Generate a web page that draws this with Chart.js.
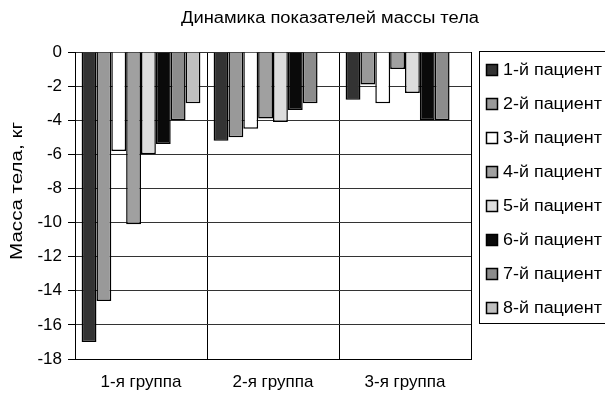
<!DOCTYPE html>
<html>
<head>
<meta charset="utf-8">
<script src="https://cdn.jsdelivr.net/npm/chart.js@4/dist/chart.umd.min.js"></script>
<style>
html,body{margin:0;padding:0;background:#fff;}
#wrap{width:605px;height:394px;position:relative;}
</style>
</head>
<body>
<div id="wrap"><canvas id="c" width="605" height="394"></canvas></div>
<script>
const chartTitle = "Динамика показателей массы тела";
const yTitle = "Масса тела, кг";
const categories = ["1-я группа", "2-я группа", "3-я группа"];
const seriesNames = ["1-й пациент","2-й пациент","3-й пациент","4-й пациент","5-й пациент","6-й пациент","7-й пациент","8-й пациент"];
const patient1 = [-17.0, -5.2, -2.8];
const patient2 = [-14.6, -5.0, -1.9];
const patient3 = [-5.8, -4.5, -3.0];
const patient4 = [-10.1, -3.9, -1.0];
const patient5 = [-6.0, -4.1, -2.4];
const patient6 = [-5.4, -3.4, -4.0];
const patient7 = [-4.0, -3.0, -4.0];
const patient8 = [-3.0, null, null];
const yTicks = [0,-2,-4,-6,-8,-10,-12,-14,-16,-18];
const seriesValues = [patient1,patient2,patient3,patient4,patient5,patient6,patient7,patient8];
const seriesColors = ["#333333","#999999","#ffffff","#a0a0a0","#dddddd","#0a0a0a","#8c8c8c","#c0c0c0"];

const FONT = "Arial, 'Liberation Sans', sans-serif";

function stretchedText(ctx, text, cx, cy, targetW, align) {
  const w = ctx.measureText(text).width;
  const k = targetW / w;
  ctx.save();
  ctx.translate(cx, cy);
  ctx.scale(k, 1);
  ctx.textAlign = align;
  ctx.fillText(text, 0, 0);
  ctx.restore();
}

const extras = {
  id: 'extras',
  afterDraw(chart) {
    const ctx = chart.ctx;
    ctx.save();
    ctx.fillStyle = '#000';
    ctx.font = '16px ' + FONT;
    ctx.textBaseline = 'middle';
    stretchedText(ctx, chartTitle, 330, 19, 298, 'center');
    // y title
    ctx.save();
    ctx.translate(18, 191);
    ctx.rotate(-Math.PI/2);
    stretchedText(ctx, yTitle, 0, 0, 138, 'center');
    ctx.restore();
    // legend frame
    ctx.lineWidth = 1;
    ctx.strokeStyle = '#000';
    ctx.strokeRect(479.5, 51.5, 140, 272);
    chart.data.datasets.forEach((ds, i) => {
      const cy = 70 + i * 34;
      ctx.fillStyle = ds.backgroundColor;
      ctx.fillRect(486.5, cy - 5.5, 11, 11);
      ctx.lineWidth = 1.5;
      ctx.strokeRect(486.5, cy - 5.5, 11, 11);
      ctx.fillStyle = '#000';
      const w = ctx.measureText(ds.label).width;
      stretchedText(ctx, ds.label, 503, cy + 1, w * 1.12, 'left');
    });
    ctx.restore();
  }
};

new Chart(document.getElementById('c'), {
  type: 'bar',
  data: {
    labels: categories,
    datasets: seriesNames.map((n, i) => ({
      label: n,
      data: seriesValues[i],
      backgroundColor: seriesColors[i],
      borderColor: '#000',
      borderWidth: 1.5,
      categoryPercentage: 0.9,
      barPercentage: 1.0
    }))
  },
  options: {
    responsive: false,
    animation: false,
    layout: { padding: { left: 0, right: 134, top: 52, bottom: 0 } },
    plugins: { legend: { display: false }, title: { display: false }, tooltip: { enabled: false } },
    scales: {
      x: {
        grid: { color: '#000', lineWidth: 1, drawTicks: false, offset: true },
        border: { color: '#000', width: 1 },
        ticks: { color: '#000', font: { family: FONT, size: 17 }, padding: 13, maxRotation: 0 },
        afterFit(s) { s.height = 35; }
      },
      y: {
        min: -18, max: 0,
        afterBuildTicks(s) { s.ticks = yTicks.map(v => ({ value: v })); },
        grid: { color: '#333', lineWidth: 1, tickLength: 7, tickColor: '#000' },
        border: { color: '#000', width: 1 },
        ticks: { color: '#000', font: { family: FONT, size: 17 }, padding: 6 },
        afterFit(s) { s.width = 75; }
      }
    }
  },
  plugins: [extras]
});
</script>
</body>
</html>
